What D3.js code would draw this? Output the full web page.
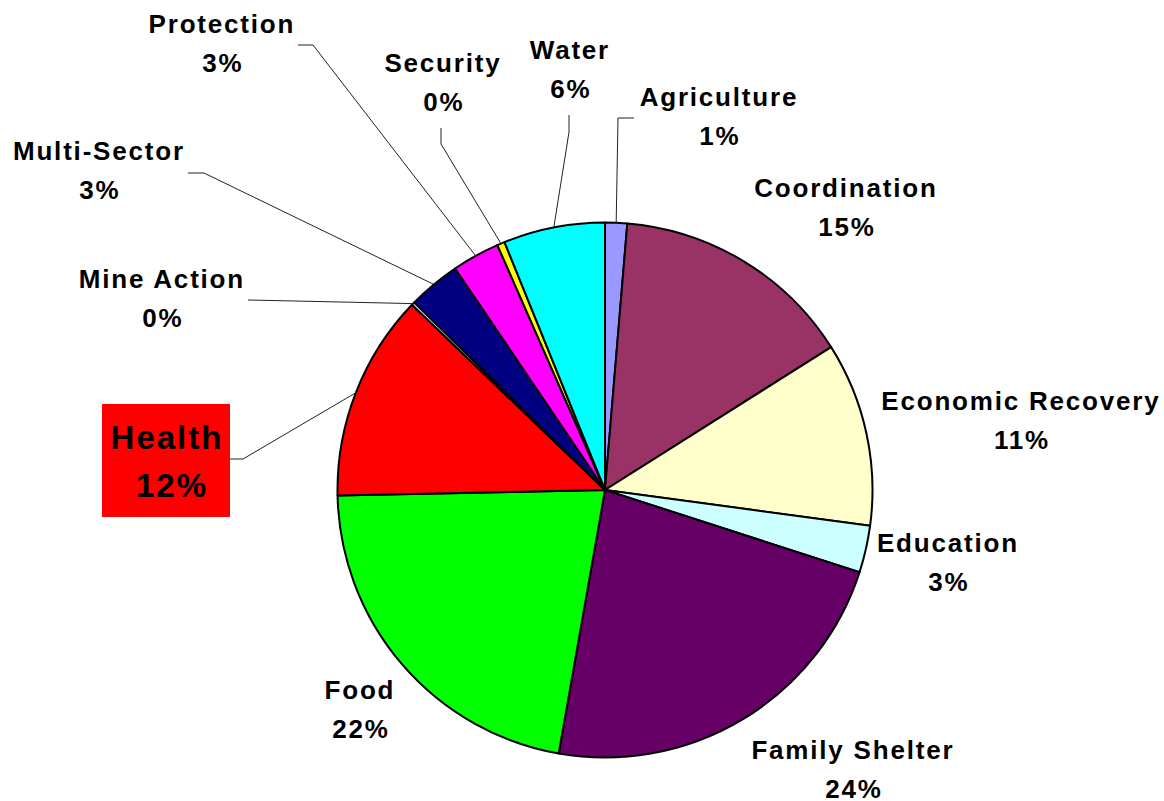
<!DOCTYPE html>
<html><head><meta charset="utf-8">
<script src="https://cdn.jsdelivr.net/npm/d3@7"></script>
<style>
html,body{margin:0;padding:0;background:#fff;}
svg text{font-family:"Liberation Sans",Arial,sans-serif;font-weight:bold;fill:#000;}
</style></head>
<body>
<svg id="chart" width="1164" height="801"></svg>
<script>
const categories = ["Agriculture","Coordination","Economic Recovery","Education","Family Shelter","Food","Health","Mine Action","Multi-Sector","Protection","Security","Water"];
const values = [1.33, 14.7, 11.1, 2.84, 22.8, 21.9, 12.5, 0.2, 3.16, 2.88, 0.46, 6.13];
const pctLabels = ["1%","15%","11%","3%","24%","22%","12%","0%","3%","3%","0%","6%"];
const colors = ["#9999FF","#993366","#FFFFCC","#CCFFFF","#660066","#00FF00","#FF0000","#CCCCFF","#000080","#FF00FF","#FFFF00","#00FFFF"];

// label layout (center x, baseline y of first line) and leader polyline start points
const labelPos = {
  "Agriculture":[718,106], "Coordination":[845,197], "Economic Recovery":[1020,410],
  "Education":[947,552], "Family Shelter":[852,759], "Food":[359,699],
  "Health":[166,449], "Mine Action":[161,288], "Multi-Sector":[98,160],
  "Protection":[221,33], "Security":[442,72], "Water":[569,59]
};
const leaders = {
  "Agriculture":[[634,118],[618,118]],
  "Water":[[569,115],[569,132]],
  "Security":[[441,128],[441,144]],
  "Protection":[[298,45],[313,45]],
  "Multi-Sector":[[188,173],[204,173]],
  "Mine Action":[[248,300]],
  "Health":[[230,459],[243,459]]
};

const svg = d3.select("#chart");
const cx = 605, cy = 490, r = 267.5;
const g = svg.append("g").attr("transform", `translate(${cx},${cy})`);
const pie = d3.pie().sort(null).value(d => d.v).startAngle(0).endAngle(2*Math.PI);
const data = categories.map((c,i) => ({c, v: values[i], col: colors[i], lab: pctLabels[i]}));
const arcs = pie(data);
const arc = d3.arc().innerRadius(0).outerRadius(r);

g.selectAll("path.slice").data(arcs).enter().append("path")
  .attr("class","slice")
  .attr("d", arc)
  .attr("fill", d => d.data.col)
  .attr("stroke", "#000")
  .attr("stroke-width", 2)
  .attr("stroke-linejoin","round");

// leader lines
const line = d3.line();
arcs.forEach(a => {
  const pts = leaders[a.data.c];
  if (!pts) return;
  const mid = (a.startAngle + a.endAngle)/2;
  const end = [cx + r*Math.sin(mid), cy - r*Math.cos(mid)];
  svg.append("path")
    .attr("d", line(pts.concat([end])))
    .attr("fill","none").attr("stroke","#222").attr("stroke-width",1);
});

// Health box
const hp = labelPos["Health"];
svg.append("rect").attr("x",102).attr("y",404).attr("width",128).attr("height",113).attr("fill","#FF0000");

// labels
arcs.forEach(a => {
  const name = a.data.c;
  const p = labelPos[name];
  const isHealth = name === "Health";
  const fs = isHealth ? 33 : 26;
  const ls = isHealth ? 2 : 1.8;
  const lh = isHealth ? 48 : 39;
  const t = svg.append("text")
    .attr("text-anchor","middle")
    .attr("font-size", fs)
    .style("letter-spacing", ls + "px");
  t.append("tspan").attr("x", p[0] + ls/2).attr("y", p[1]).text(name);
  t.append("tspan").attr("x", p[0] + ls/2 + (isHealth ? 5 : 1)).attr("y", p[1] + lh).text(a.data.lab);
});
</script>
</body></html>
